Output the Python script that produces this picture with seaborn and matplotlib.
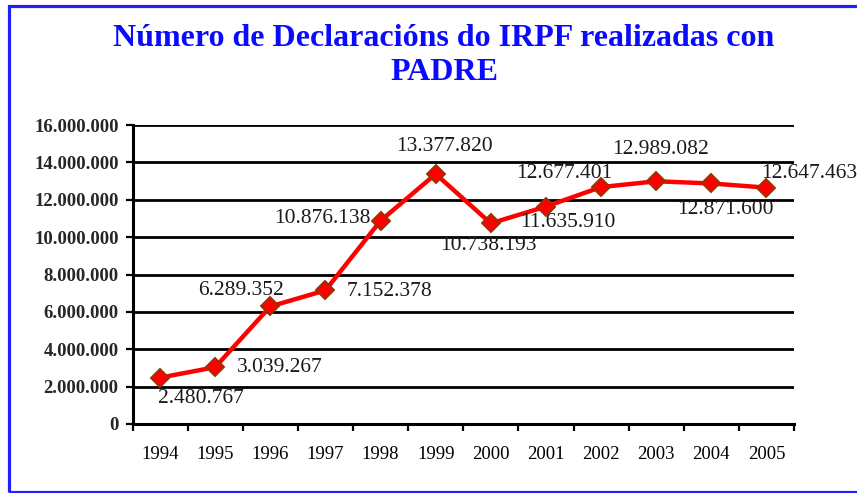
import matplotlib
matplotlib.use("Agg")
import matplotlib.pyplot as plt
import matplotlib.patches as mpatches
from matplotlib.ticker import FuncFormatter, FixedLocator
import seaborn as sns
import pandas as pd

# ---- data ----
years = ["1994", "1995", "1996", "1997", "1998", "1999",
         "2000", "2001", "2002", "2003", "2004", "2005"]
declarations = [2480767, 3039267, 6289352, 7152378, 10876138, 13377820,
                10738193, 11635910, 12677401, 12989082, 12871600, 12647463]
title_lines = ["Número de Declaracións do IRPF realizadas con", "PADRE"]
y_ticks = [0, 2000000, 4000000, 6000000, 8000000, 10000000,
           12000000, 14000000, 16000000]

# label placement offsets (pixels) relative to each point
label_offsets = [(41, -21), (65, 0), (-29, 16), (64, -1), (-58, 2), (9, 28),
                 (-2, -22), (22, -16), (-37, 14), (4, 32), (14, -26), (43, 14)]


def fmt(v):
    return f"{int(v):,}".replace(",", ".")


sns.set_style("white")
plt.rcParams["font.family"] = ["Liberation Serif", "DejaVu Serif"]

fig = plt.figure(figsize=(8.57, 4.93), dpi=100)
ax = fig.add_axes([132.5 / 857, 1 - 424 / 493, (794 - 132.5) / 857, (424 - 125) / 493])

df = pd.DataFrame({"year": years, "n": declarations})
x_idx = list(range(len(years)))
sns.lineplot(x=x_idx, y=df["n"], ax=ax, color="#ff0000", linewidth=3.2,
             marker="D", markersize=9.5, markerfacecolor="#ff0000",
             markeredgecolor="#993300", markeredgewidth=1.4, zorder=5)

ax.set_xlim(-0.5, len(years) - 0.5)
ax.set_ylim(0, 16000000)
ax.set_xlabel("")
ax.set_ylabel("")

# gridlines
for t in y_ticks[1:]:
    ax.axhline(t, color="black", linewidth=2, zorder=1)

# x ticks at category boundaries; labels centred
ax.xaxis.set_major_locator(FixedLocator([i - 0.5 for i in range(len(years) + 1)]))
ax.xaxis.set_major_formatter(FuncFormatter(lambda v, p: ""))
ax.xaxis.set_minor_locator(FixedLocator(x_idx))
ax.set_xticklabels(years, minor=True)
ax.tick_params(axis="x", which="major", direction="out", length=5, width=1.6,
               color="black", bottom=True)
ax.tick_params(axis="x", which="minor", length=0, pad=16, labelsize=13.5,
               labelcolor="black")

ax.set_yticks(y_ticks)
ax.yaxis.set_major_formatter(FuncFormatter(lambda v, p: fmt(v)))
ax.tick_params(axis="y", direction="out", length=5, width=1.6, color="black",
               left=True, labelsize=13.5, pad=5)
for lab in ax.get_yticklabels():
    lab.set_fontweight("bold")

for s in ["top", "right"]:
    ax.spines[s].set_visible(False)
for s in ["left", "bottom"]:
    ax.spines[s].set_color("black")
    ax.spines[s].set_linewidth(2.2)

for i, (v, off) in enumerate(zip(declarations, label_offsets)):
    ax.annotate(fmt(v), (i, v), xytext=off, textcoords="offset pixels",
                ha="center", va="center", fontsize=15.5, color="#1a1a1a",
                zorder=6, annotation_clip=False)

fig.text(444 / 857, 1 - 38 / 493, title_lines[0], ha="center", va="center",
         fontsize=23, fontweight="bold", color="#0a0aff")
fig.text(444 / 857, 1 - 73 / 493, title_lines[1], ha="center", va="center",
         fontsize=23, fontweight="bold", color="#0a0aff")

fig.patches.append(mpatches.Rectangle((9 / 857, 1.5 / 493), 1.0, 486 / 493,
                                      transform=fig.transFigure, fill=False,
                                      edgecolor="#2020ff", linewidth=2.3))

fig.savefig("out.png", dpi=100)
